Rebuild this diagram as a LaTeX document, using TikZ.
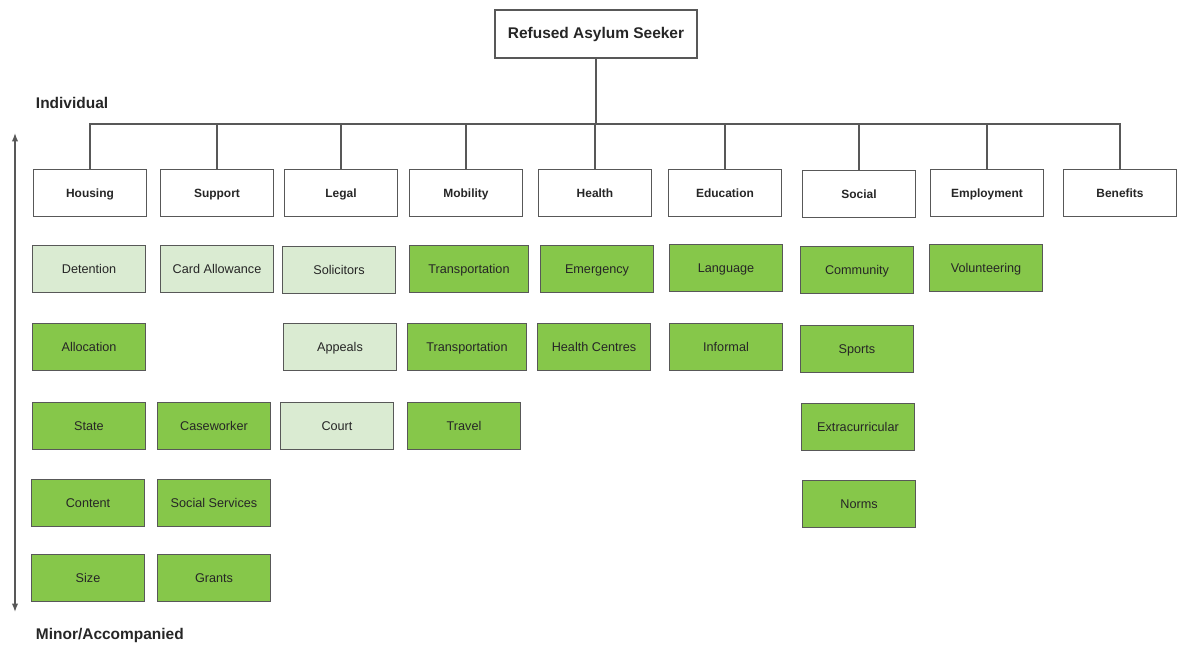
\documentclass[tikz,border=0pt]{standalone}
\usepackage{fontspec}
\setmainfont{Liberation Sans}
\usetikzlibrary{positioning, arrows.meta}
\definecolor{LeafGreen}{RGB}{134,199,74}
\definecolor{PaleGreen}{RGB}{218,235,210}
\definecolor{EdgeGray}{RGB}{88,88,88}

\begin{document}
\begin{tikzpicture}[x=0.025cm, y=-0.025cm, every node/.style={font=\fontsize{9}{11}\selectfont, text=black!85},
  topbox/.style={draw=EdgeGray, line width=0.9pt, fill=white, minimum width=5.05cm, minimum height=1.2cm, font=\fontsize{11}{13}\selectfont\bfseries},
  catbox/.style={draw=EdgeGray, line width=0.9pt, fill=white, minimum width=2.825cm, minimum height=1.175cm, text height=1.6ex, text depth=0.4ex, font=\fontsize{8.5}{10}\selectfont\bfseries},
  leafbox/.style={draw=EdgeGray, line width=0.9pt, fill=LeafGreen, minimum width=2.825cm, minimum height=1.175cm, text height=1.6ex, text depth=0.4ex},
  paleleaf/.style={leafbox, fill=PaleGreen},
  sidelabel/.style={anchor=west, font=\fontsize{11}{13}\selectfont\bfseries},
  link/.style={EdgeGray, line width=0.9pt}]
\useasboundingbox (0,0) rectangle (1181,646);

% Root of the tree
\node[topbox] (root) at (596,34) {Refused Asylum Seeker};
\coordinate (bus) at (596,124);

% Categories
\node[catbox] (hous) at (90,193) {Housing};
\node[catbox] (supp) at (217,193) {Support};
\node[catbox] (legal) at (341,193) {Legal};
\node[catbox] (mob) at (466,193) {Mobility};
\node[catbox] (health) at (595,193) {Health};
\node[catbox] (edu) at (725,193) {Education};
\node[catbox] (social) at (859,194) {Social};
\node[catbox] (employ) at (987,193) {Employment};
\node[catbox] (benef) at (1120,193) {Benefits};

% Housing column
\node[paleleaf] (detent) at (89,269) {Detention};
\node[leafbox] (alloc) at (89,347) {Allocation};
\node[leafbox] (state) at (89,426) {State};
\node[leafbox] (content) at (88,503) {Content};
\node[leafbox] (size) at (88,578) {Size};

% Support column
\node[paleleaf] (card) at (217,269) {Card Allowance};
\node[leafbox] (casew) at (214,426) {Caseworker};
\node[leafbox] (socserv) at (214,503) {Social Services};
\node[leafbox] (grants) at (214,578) {Grants};

% Legal column
\node[paleleaf] (solic) at (339,270) {Solicitors};
\node[paleleaf] (appeal) at (340,347) {Appeals};
\node[paleleaf] (court) at (337,426) {Court};

% Mobility column
\node[leafbox, minimum width=2.975cm] (transA) at (469,269) {Transportation};
\node[leafbox, minimum width=2.975cm] (transB) at (467,347) {Transportation};
\node[leafbox] (travel) at (464,426) {Travel};

% Health column
\node[leafbox] (emerg) at (597,269) {Emergency};
\node[leafbox] (hcentre) at (594,347) {Health Centres};

% Education column
\node[leafbox] (lang) at (726,268) {Language};
\node[leafbox] (informal) at (726,347) {Informal};

% Social column
\node[leafbox] (commun) at (857,270) {Community};
\node[leafbox] (sports) at (857,349) {Sports};
\node[leafbox] (extra) at (858,427) {Extracurricular};
\node[leafbox] (norms) at (859,504) {Norms};

% Employment column
\node[leafbox] (volunt) at (986,268) {Volunteering};

% Connectors from root to categories
\draw[link] (root.south) -- (bus);
\draw[link] (hous.north) |- (bus);
\draw[link] (supp.north) |- (bus);
\draw[link] (legal.north) |- (bus);
\draw[link] (mob.north) |- (bus);
\draw[link] (health.north) |- (bus);
\draw[link] (edu.north) |- (bus);
\draw[link] (social.north) |- (bus);
\draw[link] (employ.north) |- (bus);
\draw[link] (benef.north) |- (bus);

% Side axis
\node[sidelabel] (indiv) at (31,103) {Individual};
\node[sidelabel] (minor) at (31,635) {Minor/Accompanied};
\coordinate (axtop) at (15,133);
\coordinate (axbot) at (15,612);
\draw[link, {Latex[length=6pt,width=4.5pt]}-{Latex[length=6pt,width=4.5pt]}] (axtop) -- (axbot);
\end{tikzpicture}
\end{document}
